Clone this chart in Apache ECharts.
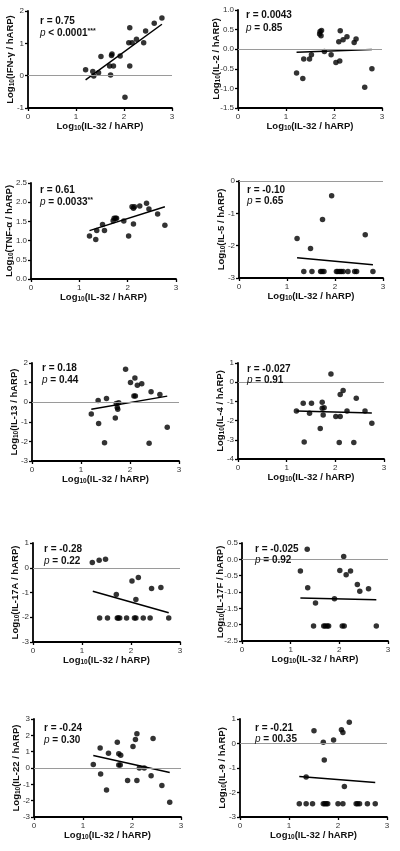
<!DOCTYPE html>
<html><head><meta charset="utf-8">
<script src="https://cdn.jsdelivr.net/npm/echarts@6/dist/echarts.min.js"></script>
<style>html,body{margin:0;padding:0;background:#fff}#c{width:400px;height:851px}</style>
</head><body><div id="c"></div>
<script>
const cytokines = ['IFN-γ','IL-2','TNF-α','IL-5','IL-13','IL-4','IL-17A','IL-17F','IL-22','IL-9'];
const xTitle = 'IL-32 / hARP';
const xTicks = [0, 1, 2, 3];
const yMin = [-1, -1.5, 0, -3, -3, -4, -3, -2.5, -3, -3];
const yMax = [2, 1, 2.5, 0, 2, 1, 1, 0.5, 3, 1];
const yStep = [1, 0.5, 0.5, 1, 1, 1, 1, 0.5, 1, 1];
const yDecimals = [0, 1, 1, 0, 0, 0, 0, 1, 0, 0];
const rText = ['0.75','0.0043','0.61','-0.10','0.18','-0.027','-0.28','-0.025','-0.24','-0.21'];
const pText = ['< 0.0001','= 0.85','= 0.0033','= 0.65','= 0.44','= 0.91','= 0.22','= 0.92','= 0.30','= 00.35'];
const pStars = ['***','','**','','','','','','',''];

const IFNG = [[1.20,0.18],[1.35,0.13],[1.37,-0.01],[1.47,0.09],[1.52,0.59],[1.70,0.30],[1.72,0.02],[1.74,0.62],[1.75,0.67],[1.78,0.30],[1.92,0.61],[2.02,-0.67],[2.10,1.02],[2.12,1.48],[2.12,0.30],[2.17,1.02],[2.26,1.13],[2.41,1.02],[2.45,1.38],[2.63,1.62],[2.79,1.78]];
const IL2 = [[1.22,-0.61],[1.35,-0.75],[1.37,-0.25],[1.49,-0.25],[1.53,-0.14],[1.71,0.45],[1.70,0.39],[1.73,0.34],[1.74,0.48],[1.80,-0.06],[1.94,-0.14],[2.04,-0.34],[2.12,-0.30],[2.10,0.19],[2.13,0.47],[2.19,0.24],[2.27,0.32],[2.42,0.17],[2.46,0.26],[2.64,-0.97],[2.79,-0.50]];
const TNFA = [[1.21,1.12],[1.34,1.03],[1.36,1.26],[1.48,1.42],[1.52,1.26],[1.70,1.52],[1.72,1.58],[1.75,1.58],[1.77,1.58],[1.92,1.51],[2.02,1.12],[2.09,1.88],[2.12,1.84],[2.14,1.88],[2.12,1.43],[2.25,1.90],[2.39,1.97],[2.44,1.82],[2.62,1.69],[2.77,1.40]];
const IL5 = [[1.21,-1.78],[1.49,-2.09],[1.74,-1.19],[1.93,-0.46],[2.63,-1.66],[1.35,-2.80],[1.52,-2.80],[1.70,-2.80],[1.73,-2.80],[1.77,-2.80],[2.03,-2.80],[2.06,-2.80],[2.10,-2.80],[2.13,-2.80],[2.17,-2.80],[2.27,-2.80],[2.41,-2.80],[2.45,-2.80],[2.79,-2.80]];
const IL13 = [[1.21,-0.60],[1.35,0.09],[1.36,-1.09],[1.48,-2.07],[1.52,0.19],[1.70,-0.80],[1.72,-0.07],[1.74,-0.27],[1.75,-0.36],[1.77,-0.03],[1.91,1.68],[2.01,1.01],[2.10,1.23],[2.08,0.31],[2.11,0.31],[2.15,0.87],[2.24,0.94],[2.39,-2.09],[2.43,0.53],[2.61,0.39],[2.76,-1.28]];
const IL4 = [[1.20,-1.50],[1.34,-1.09],[1.36,-3.12],[1.47,-1.62],[1.51,-1.09],[1.69,-2.41],[1.73,-1.05],[1.73,-1.36],[1.77,-1.33],[1.75,-1.71],[1.91,0.43],[2.01,-1.78],[2.10,-1.78],[2.08,-3.14],[2.10,-0.64],[2.16,-0.43],[2.24,-1.50],[2.38,-3.14],[2.43,-0.84],[2.61,-1.50],[2.75,-2.14]];
const IL17A = [[1.21,0.21],[1.35,0.30],[1.48,0.34],[1.70,-1.08],[2.02,-0.54],[2.15,-0.39],[2.10,-1.28],[2.42,-0.84],[2.61,-0.80],[1.36,-2.03],[1.52,-2.03],[1.72,-2.03],[1.74,-2.03],[1.77,-2.03],[1.91,-2.03],[2.07,-2.03],[2.10,-2.03],[2.25,-2.03],[2.39,-2.03],[2.77,-2.03]];
const IL17F = [[1.20,-0.36],[1.34,0.31],[1.35,-0.87],[1.51,-1.34],[1.90,-1.21],[2.01,-0.34],[2.09,0.09],[2.14,-0.47],[2.23,-0.36],[2.37,-0.77],[2.42,-0.98],[2.60,-0.90],[1.47,-2.04],[1.68,-2.04],[1.71,-2.04],[1.75,-2.04],[1.78,-2.04],[2.06,-2.04],[2.10,-2.04],[2.76,-2.04]];
const IL22 = [[1.21,0.21],[1.35,1.23],[1.36,-0.37],[1.48,-1.35],[1.52,0.90],[1.70,1.58],[1.73,0.88],[1.73,0.18],[1.76,0.18],[1.77,0.78],[1.91,-0.76],[2.02,1.31],[2.07,1.74],[2.10,2.09],[2.10,-0.76],[2.15,0.00],[2.25,0.00],[2.39,-0.47],[2.43,1.81],[2.61,-1.07],[2.77,-2.09]];
const IL9 = [[1.51,0.52],[1.70,0.05],[1.72,-0.67],[1.91,0.14],[2.07,0.56],[2.10,0.45],[2.23,0.87],[1.35,-1.37],[2.13,-1.76],[1.21,-2.46],[1.35,-2.46],[1.48,-2.46],[1.70,-2.46],[1.73,-2.46],[1.76,-2.46],[1.79,-2.46],[2.00,-2.46],[2.10,-2.46],[2.37,-2.46],[2.40,-2.46],[2.44,-2.46],[2.60,-2.46],[2.76,-2.46]];

const IFNG_FIT = [[1.20,-0.13],[2.79,1.59]];
const IL2_FIT = [[1.22,-0.08],[2.79,-0.01]];
const TNFA_FIT = [[1.21,1.26],[2.77,1.88]];
const IL5_FIT = [[1.21,-2.37],[2.79,-2.59]];
const IL13_FIT = [[1.21,-0.36],[2.76,0.31]];
const IL4_FIT = [[1.20,-1.50],[2.75,-1.60]];
const IL17A_FIT = [[1.22,-0.95],[2.77,-1.82]];
const IL17F_FIT = [[1.20,-1.18],[2.76,-1.24]];
const IL22_FIT = [[1.21,0.76],[2.77,-0.27]];
const IL9_FIT = [[1.21,-1.35],[2.76,-1.59]];

const points = [IFNG, IL2, TNFA, IL5, IL13, IL4, IL17A, IL17F, IL22, IL9];
const fits = [IFNG_FIT, IL2_FIT, TNFA_FIT, IL5_FIT, IL13_FIT, IL4_FIT, IL17A_FIT, IL17F_FIT, IL22_FIT, IL9_FIT];

// layout (pixels)
const grids = [
  [28,11,144,97],[238,10,144,98],
  [31,183,145,96],[239,181,144,97],
  [32,363,147,98],[238,363,146,96],
  [33,543,147,99],[242,543,146,98],
  [34,719,147,98],[240,719,147,98]
];
const statPos = [[40,22,34],[246,16,29],[40,191,203],[247,191,202],[42,369,381],[247,370,381],[44,550,562],[255,550,561],[44,729,741],[255,729,740]];

const FONT = '"Liberation Sans", Arial, Helvetica, sans-serif';
const subRich = {
  s: {fontSize: 6.5, fontWeight: 'bold', fontFamily: FONT, color: '#111', verticalAlign: 'bottom', padding: [4,0,0,0]}
};

const option = {
  animation: false,
  backgroundColor: '#fff',
  grid: [], xAxis: [], yAxis: [], series: [], graphic: []
};

cytokines.forEach((name, i) => {
  const g = grids[i];
  option.grid.push({left: g[0], top: g[1], width: g[2], height: g[3], containLabel: false});
  const axisCommon = {
    axisLine: {show: true, onZero: false, lineStyle: {color: '#000', width: 1.8}},
    axisTick: {show: true, inside: false, length: 3, lineStyle: {color: '#000', width: 1.3}},
    splitLine: {show: false},
    nameLocation: 'middle',
    nameMoveOverlap: false,
    nameTextStyle: {fontSize: 9.5, fontWeight: 'bold', fontFamily: FONT, color: '#111', rich: subRich}
  };
  option.xAxis.push(Object.assign({}, axisCommon, {
    gridIndex: i, type: 'value', min: xTicks[0], max: xTicks[xTicks.length-1], interval: xTicks[1]-xTicks[0],
    name: 'Log{s|10}(' + xTitle + ')', nameGap: 13,
    axisLabel: {fontSize: 8, color: '#333', fontFamily: FONT, margin: 5}
  }));
  const dec = yDecimals[i];
  option.yAxis.push(Object.assign({}, axisCommon, {
    gridIndex: i, type: 'value', min: yMin[i], max: yMax[i], interval: yStep[i],
    name: 'Log{s|10}(' + name + ' / hARP)', nameGap: dec ? 16 : 12, nameRotate: 90,
    axisLabel: {fontSize: 8, color: '#333', fontFamily: FONT, margin: 4,
      formatter: v => v.toFixed(dec)}
  }));
  const fitSeries = {
    type: 'line', xAxisIndex: i, yAxisIndex: i, data: fits[i], showSymbol: false, symbol: 'none',
    lineStyle: {color: '#000', width: 1.5}, z: 2, silent: true
  };
  if (yMin[i] < 0) {
    fitSeries.markLine = {
      silent: true, symbol: 'none', label: {show: false},
      lineStyle: {color: '#9a9a9a', width: 1, type: 'solid'},
      data: [{yAxis: 0}]
    };
  }
  option.series.push(fitSeries);
  option.series.push({
    type: 'scatter', xAxisIndex: i, yAxisIndex: i, data: points[i],
    symbol: 'circle', symbolSize: 5.5, itemStyle: {color: '#000'}, z: 3, silent: true
  });
  const sp = statPos[i];
  option.graphic.push({
    type: 'text', left: sp[0], top: sp[1] - 6, z: 10,
    style: {text: 'r = ' + rText[i], font: 'bold 10px ' + FONT, fill: '#111'}
  });
  option.graphic.push({
    type: 'text', left: sp[0], top: sp[2] - 6, z: 10,
    style: {
      text: '{i|p}{b| ' + pText[i] + '}' + (pStars[i] ? '{sup|' + pStars[i] + '}' : ''),
      rich: {
        i: {fontStyle: 'italic', fontSize: 10, fontFamily: FONT, fill: '#111', color: '#111'},
        b: {fontWeight: 'bold', fontSize: 10, fontFamily: FONT, fill: '#111', color: '#111'},
        sup: {fontWeight: 'bold', fontSize: 7, fontFamily: FONT, fill: '#111', color: '#111', verticalAlign: 'top'}
      }
    }
  });
});

const chart = echarts.init(document.getElementById('c'), null, {renderer: 'canvas'});
chart.setOption(option);
</script>
</body></html>
